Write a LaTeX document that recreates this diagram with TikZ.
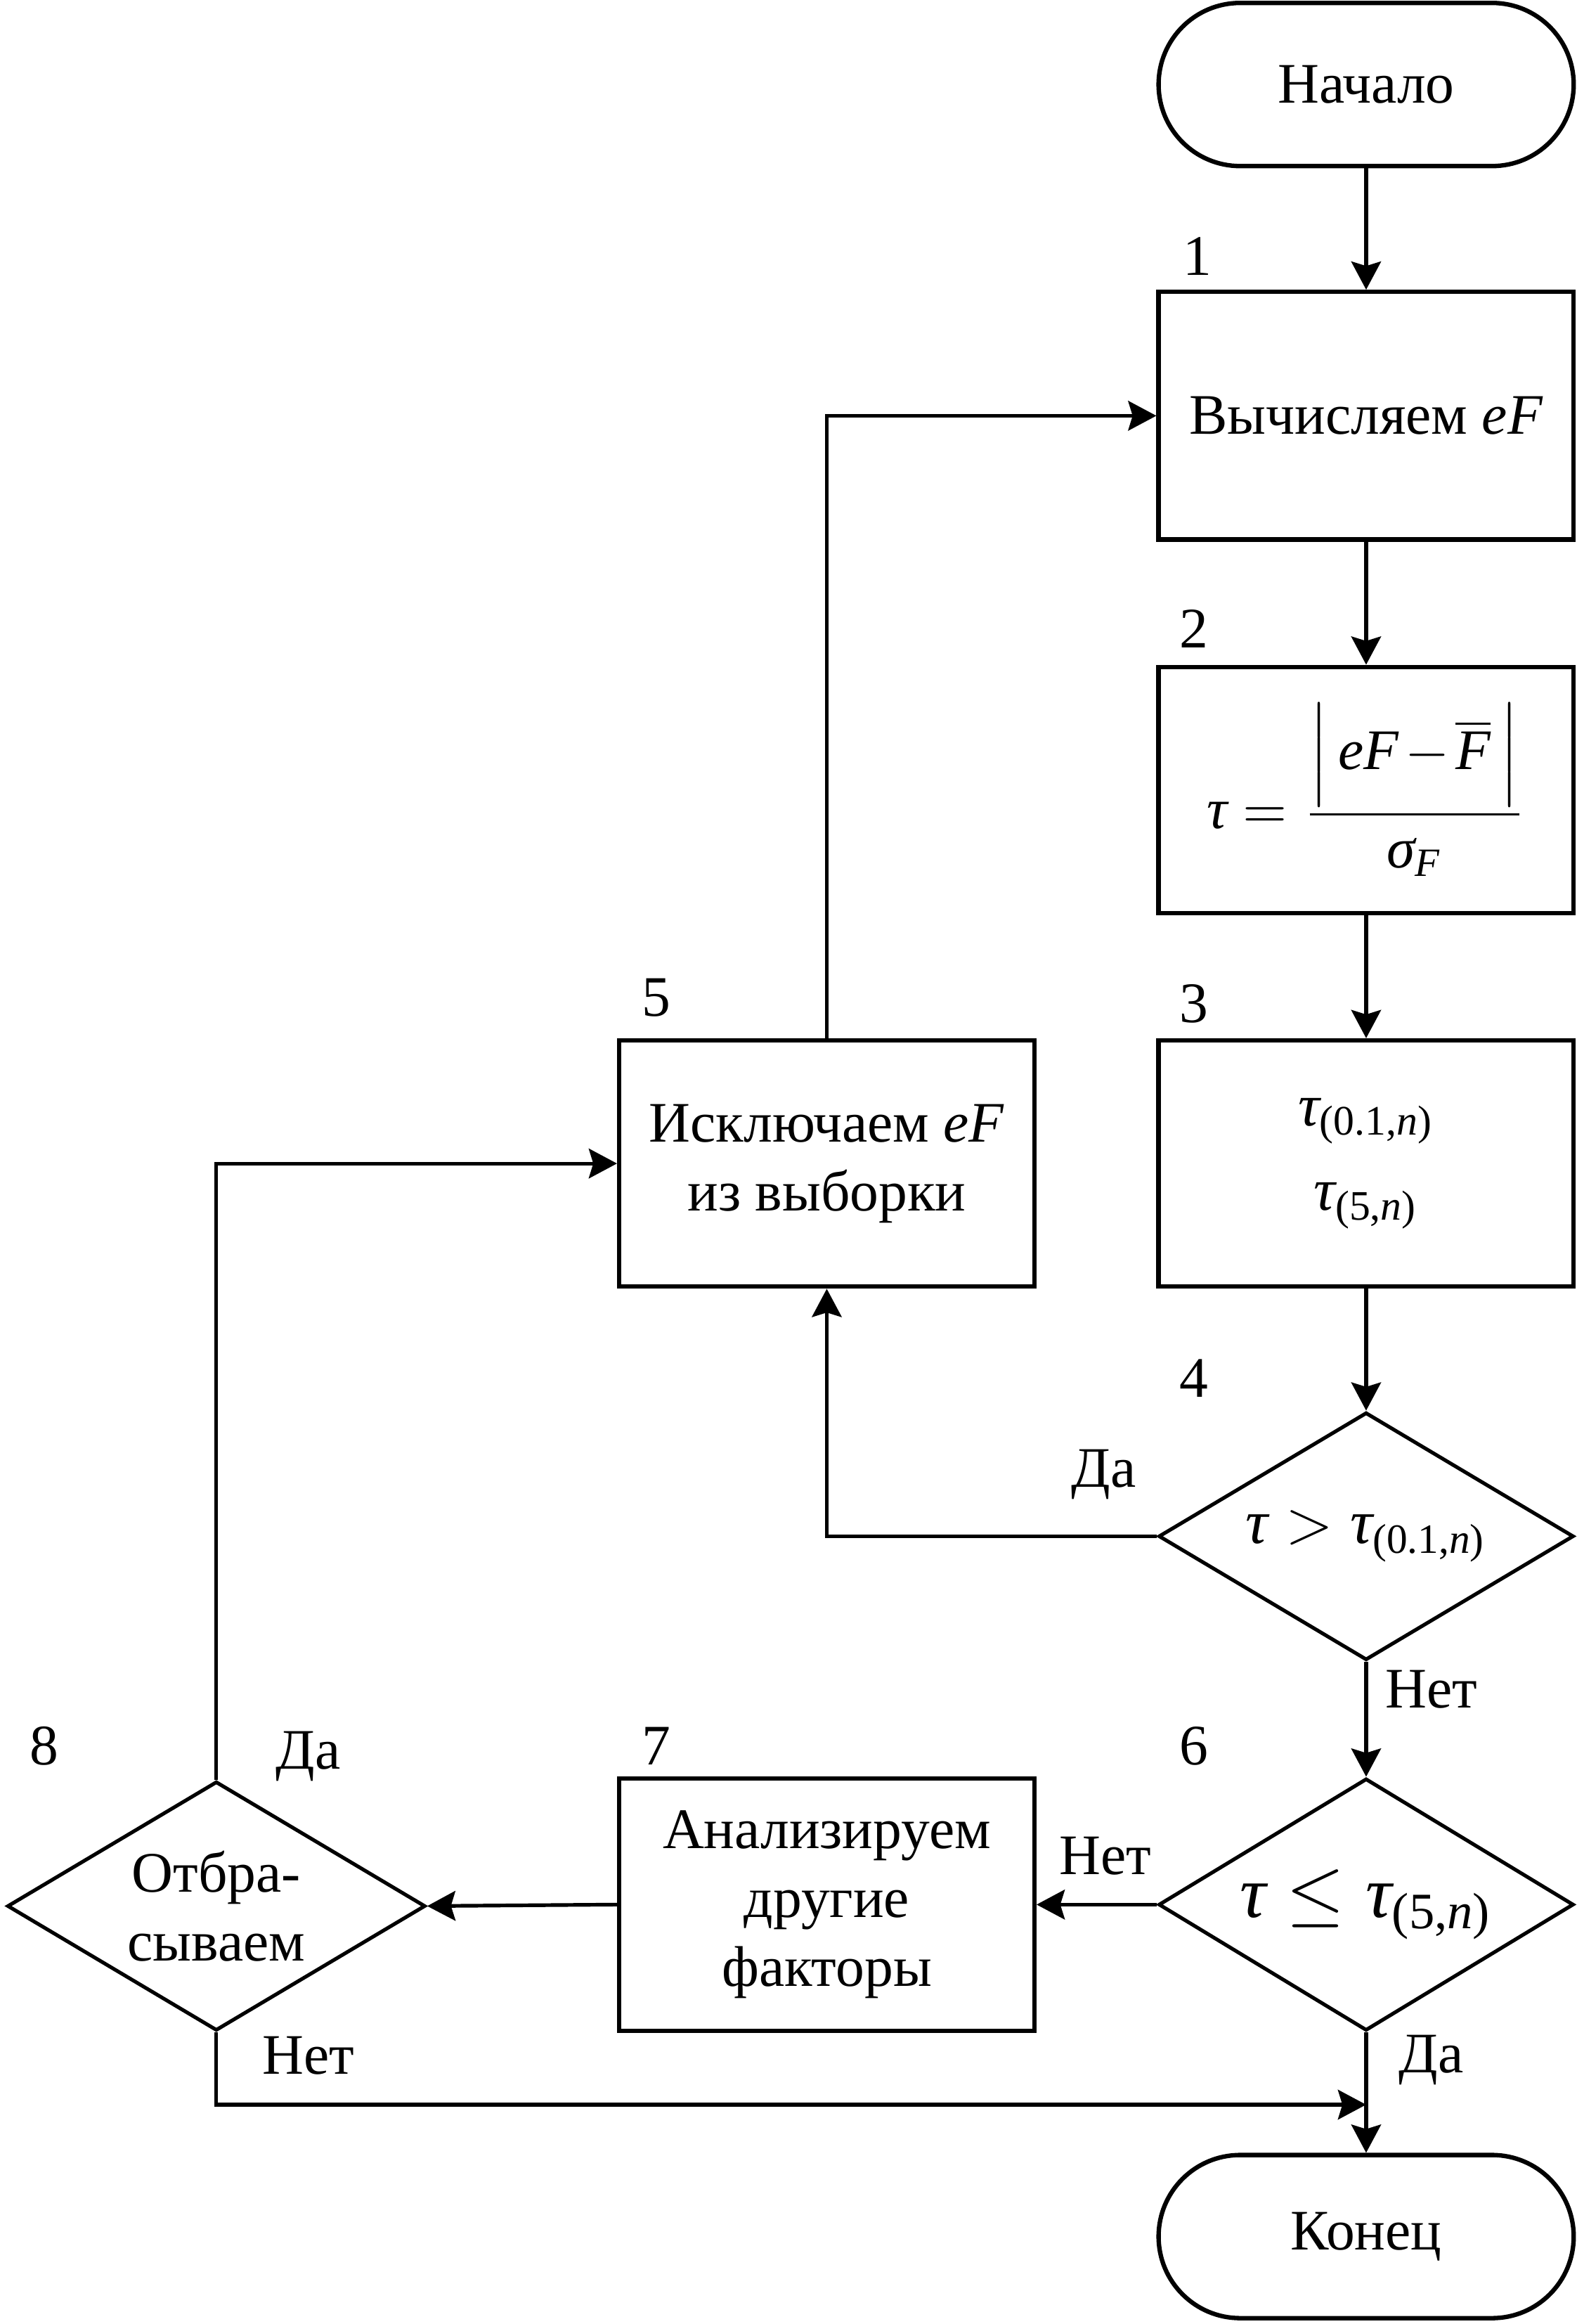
\documentclass[tikz,border=0pt]{standalone}
\usepackage{amsmath}
\usepackage{fontspec}
\setmainfont{Liberation Serif}
\usetikzlibrary{arrows.meta,shapes.geometric}

\newcommand{\ti}[1]{\textit{#1}}

\begin{document}
\begin{tikzpicture}[x=0.01cm,y=-0.01cm,
  every node/.style={font=\fontsize{11}{13.2}\selectfont},
  blk/.style={draw,line width=0.85pt,minimum width=2.8cm,inner sep=0pt,align=center},
  term/.style={draw,line width=0.85pt,rounded corners=0.55cm,minimum width=2.8cm,minimum height=1.1cm,inner sep=0pt},
  dec/.style={draw,diamond,line width=0.7pt,inner sep=0pt,align=center},
  arr/.style={line width=0.7pt,-{Stealth[length=1.9mm,width=2mm,inset=0.3mm]}},
  num/.style={inner sep=0pt}
]
\useasboundingbox (0,0) rectangle (1064,1568);

% main column
\node[term] (start) at (922,57) {Начало};
\node[blk,minimum height=1.67cm] (b1) at (922,280.5) {Вычисляем \ti{eF}};
\node[blk,minimum height=1.66cm] (b2) at (922,533)
  {$\ti{τ} = \dfrac{\Bigl|\,\ti{eF} \mkern-2mu-\mkern-2mu \overline{\ti{F}}\,\Bigr|}{\ti{σ}_{\ti{F}}}$};
\node[blk,minimum height=1.66cm,font=\fontsize{11.5}{16.2}\selectfont] (b3) at (922,785)
  {$\ti{τ}_{\text{(0.1,\textit{n})}}$\\$\ti{τ}_{\text{(5,\textit{n})}}$};
\node[dec,aspect=1.68,minimum width=2.8cm,minimum height=1.67cm,font=\fontsize{12}{14}\selectfont] (d4) at (922,1036.5)
  {$\ti{τ} > \ti{τ}_{\text{(0.1,\textit{n})}}$};
\node[dec,aspect=1.65,minimum width=2.8cm,minimum height=1.7cm,font=\fontsize{14}{16}\selectfont] (d6) at (922,1285)
  {$\ti{τ} \le \ti{τ}_{\text{(5,\textit{n})}}$};
\node[term] (end) at (922,1509) {Конец};

% side blocks
\node[blk,minimum height=1.66cm] (b5) at (558,785) {Исключаем \ti{eF}\\из выборки};
\node[blk,minimum height=1.7cm] (b7) at (558,1285) {Анализируем\\другие\\факторы};
\node[dec,aspect=1.68,minimum width=2.82cm,minimum height=1.68cm] (d8) at (146,1286) {Отбра-\\сываем};

\coordinate (join) at (922,1420);

% connectors
\draw[arr] (start) -- (b1);
\draw[arr] (b1) -- (b2);
\draw[arr] (b2) -- (b3);
\draw[arr] (b3) -- (d4);
\draw[arr] (d4.west) -| (b5.south);
\draw[arr] (b5.north) |- (b1.west);
\draw[arr] (d4.south) -- (d6.north);
\draw[arr] (d6.west) -- (b7.east);
\draw[arr] (d6.south) -- (end.north);
\draw[arr] (b7.west) -- (d8.east);
\draw[arr] (d8.north) |- (b5.west);
\draw[arr] (d8.south) |- (join);

% block numbers
\node[num] (n1) at (808,173) {1};
\node[num] (n2) at (806,424) {2};
\node[num] (n3) at (806,677) {3};
\node[num] (n4) at (806,930) {4};
\node[num] (n5) at (443,673) {5};
\node[num] (n6) at (806,1178) {6};
\node[num] (n7) at (443,1178) {7};
\node[num] (n8) at (30,1178) {8};

% branch labels
\node[num] (l4y) at (745,995) {Да};
\node[num] (l4n) at (966,1140) {Нет};
\node[num] (l6n) at (746,1252) {Нет};
\node[num] (l6y) at (966,1390) {Да};
\node[num] (l8y) at (208,1185) {Да};
\node[num] (l8n) at (208,1387) {Нет};
\end{tikzpicture}
\end{document}
